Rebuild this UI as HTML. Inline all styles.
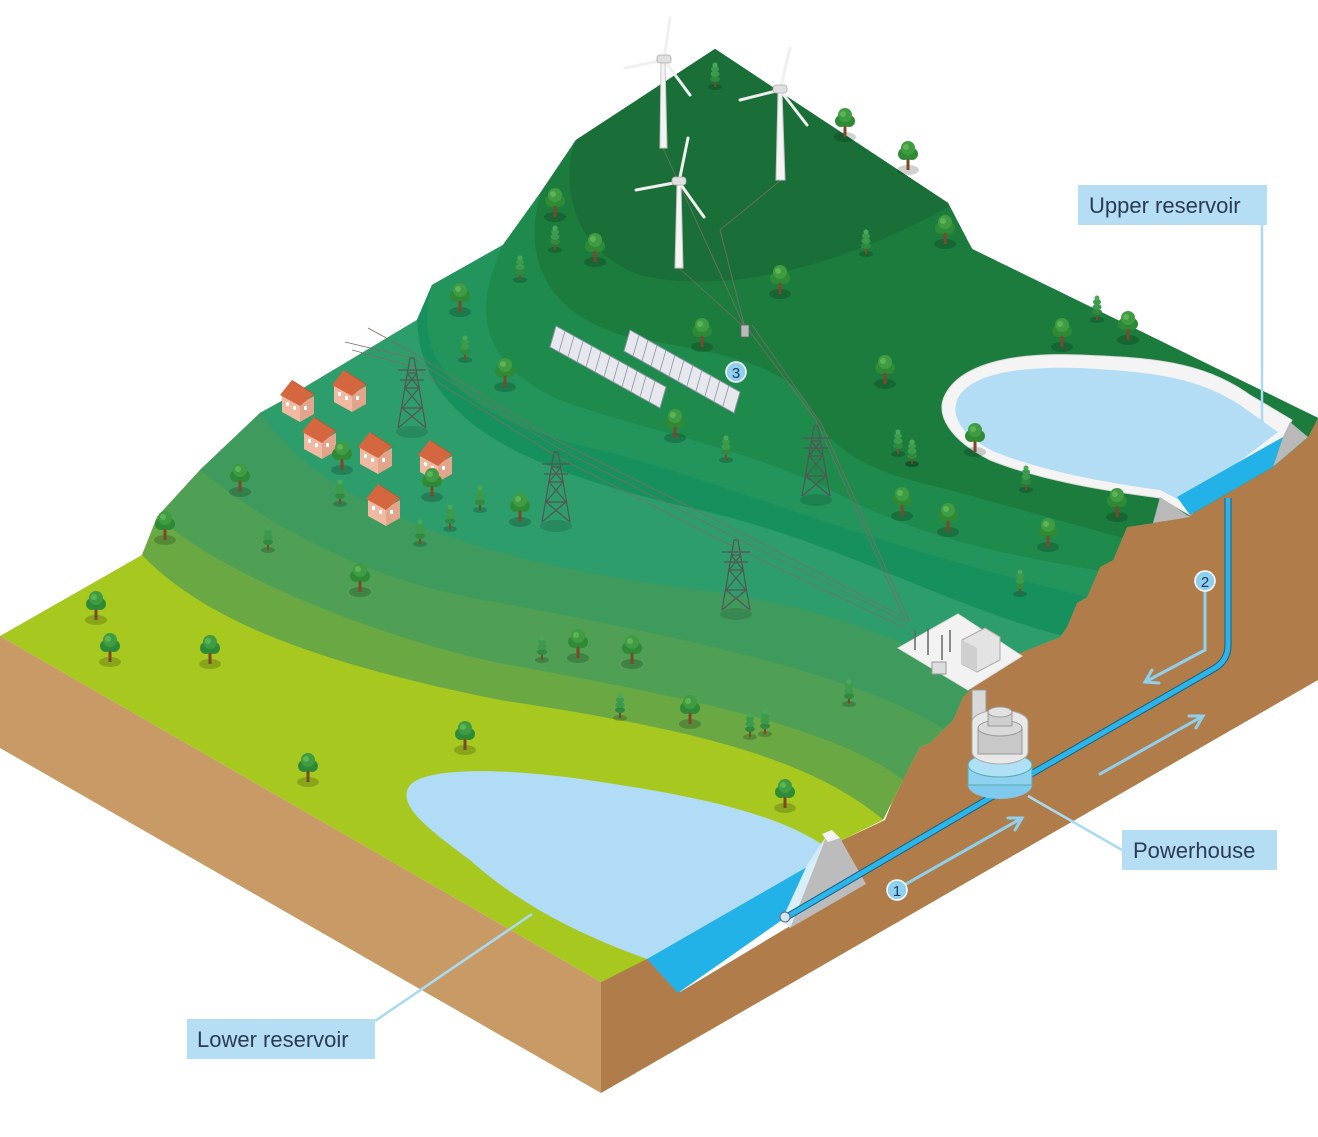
<!DOCTYPE html>
<html><head><meta charset="utf-8"><style>
html,body{margin:0;padding:0;background:#fff}
svg{display:block}
.lbl{font-family:"Liberation Sans",sans-serif;font-size:22px;fill:#2b3a55}
.num{font-family:"Liberation Sans",sans-serif;font-size:15px;fill:#1d3a66;text-anchor:middle}
</style></head><body>
<svg width="1318" height="1137" viewBox="0 0 1318 1137" xmlns="http://www.w3.org/2000/svg">
<defs>
<clipPath id="top"><path d="M0,636 L142,555 L157,517 L200,470 L260,413 L280,402 L417,320 L432,285 L503,245 L541,192 L576,140 L715,49 L948,203 L972,249 L1318,418 L1308,437 L1273,467 L1190,515 L1153,523 L1127,527 L1113,560 L1100,567 L1087,597 L1077,603 L1067,627 L1060,637 L1020,653 L980,680 L963,697 L953,720 L930,743 L920,747 L903,780 L893,800 L883,820 L838,842 L807,867 L647,959 L601,982 Z"/></clipPath>
<g id="tree"><ellipse cx="0" cy="2" rx="11" ry="5" fill="#000" opacity="0.18"/><rect x="-1.5" y="-10" width="3" height="12" fill="#7a4a2a"/><circle cx="-4" cy="-14" r="6" fill="#2f8a36"/><circle cx="4" cy="-14" r="6" fill="#2f8a36"/><circle cx="0" cy="-20" r="7" fill="#3f9c42"/><circle cx="-2" cy="-21" r="3" fill="#5cb455"/></g>
<g id="pine"><ellipse cx="0" cy="2" rx="7" ry="3" fill="#000" opacity="0.18"/><rect x="-1" y="-4" width="2" height="6" fill="#7a4a2a"/><ellipse cx="0" cy="-6" rx="5" ry="3" fill="#2f8a40"/><ellipse cx="0" cy="-11" rx="4.5" ry="3" fill="#3c9a4c"/><ellipse cx="0" cy="-16" rx="4" ry="3" fill="#3c9a4c"/><ellipse cx="0" cy="-20" rx="2.5" ry="2.5" fill="#4aa85a"/></g>
<g id="house"><polygon points="-18,-6 0,4 0,-14 -18,-24" fill="#f2b9a2"/><polygon points="0,4 14,-4 14,-22 0,-14" fill="#e3a48c"/><polygon points="-20,-23 -8,-38 14,-24 0,-12" fill="#d4673f"/><polygon points="-8,-38 14,-24 16,-22 -6,-36" fill="#b84f2e"/><rect x="-14" y="-16" width="3" height="4" fill="#fff"/><rect x="-7" y="-12" width="3" height="4" fill="#fff"/><rect x="4" y="-12" width="3" height="4" fill="#fff"/></g>
<g id="pylon" fill="none" stroke="#555" stroke-width="1.2"><path d="M-14,0 L-2,-70 L2,-70 L14,0 M-10,-20 L10,-20 M-7,-40 L7,-40 M-5,-55 L5,-55 M-14,0 L10,-20 L-7,-40 L5,-55 M14,0 L-10,-20 L7,-40 L-5,-55 M-14,-58 L14,-58 M-12,-48 L12,-48"/><ellipse cx="0" cy="4" rx="16" ry="6" fill="#000" opacity="0.12" stroke="none"/></g>
</defs>

<!-- side faces -->
<polygon points="0,636 601,982 601,1093 0,748" fill="#c89b66"/>
<polygon points="601,982 647,958 680,992 790,926 860,886 838,842 885,820 893,800 903,780 920,747 930,743 953,720 963,697 980,680 1020,653 1060,637 1067,627 1077,603 1087,597 1100,567 1113,560 1127,527 1153,523 1190,515 1273,467 1308,437 1318,418 1318,680 601,1093" fill="#b07d4a"/>

<!-- top surface bands -->
<g clip-path="url(#top)">
<rect x="0" y="0" width="1318" height="1137" fill="#a7c81f"/>
<path d="M120,530 L142,555 C200,615 300,660 500,700 C700,730 820,760 895,830 L1400,830 L1400,-10 L-10,-10 Z" fill="#6aa844"/>
<path d="M130,500 L157,517 C233,583 400,643 500,663 C700,700 850,730 915,790 L1400,790 L1400,-10 L-10,-10 Z" fill="#4f9f54"/>
<path d="M180,450 L200,470 C300,550 400,587 500,603 C700,640 880,680 960,740 L1400,740 L1400,-10 L-10,-10 Z" fill="#3f9b5d"/>
<path d="M240,395 L260,413 C330,515 500,565 700,590 C850,610 920,650 1000,690 L1400,690 L1400,-10 L-10,-10 Z" fill="#2d9d6b"/>
<path d="M400,300 L417,320 C420,420 520,470 700,510 C850,545 950,610 1080,640 L1400,640 L1400,-10 L-10,-10 Z" fill="#16915d"/>
<path d="M420,270 L432,285 C410,360 460,420 600,450 C720,480 850,540 1100,600 L1400,600 L1400,-10 L-10,-10 Z" fill="#22945c"/>
<path d="M490,230 L503,245 C478,300 470,360 560,400 C640,430 760,450 850,500 C950,550 1050,560 1120,575 L1400,575 L1400,-10 L-10,-10 Z" fill="#1e8a4c"/>
<path d="M530,180 L541,192 C526,240 530,310 629,337 C700,350 780,360 805,400 C830,450 860,470 950,490 L1130,540 L1400,540 L1400,-10 L-10,-10 Z" fill="#1b7c3e"/>
<path d="M560,120 L576,140 C560,180 570,250 640,275 C720,295 840,270 960,200 L960,-10 L-10,-10 Z" fill="#196f37"/>
</g>

<!-- upper reservoir -->
<path d="M945,395 C960,365 1010,352 1080,355 C1150,358 1200,360 1250,395 L1292,420 L1283,437 L1190,515 L1160,498 C1100,490 1040,480 990,460 C950,440 935,415 945,395 Z" fill="#f4f4f4" stroke="#dcdcdc"/>
<path d="M958,398 C970,375 1015,366 1080,368 C1150,372 1195,376 1240,405 L1278,432 L1185,503 L1160,490 C1100,482 1040,470 995,452 C960,435 950,415 958,398 Z" fill="#b3dcf5"/>
<polygon points="1177,497 1283,437 1273,467 1190,515" fill="#22b2e8"/>
<polygon points="1160,497 1190,517 1153,523" fill="#b9b9b9"/>
<polygon points="1290,422 1308,437 1273,467 1283,437" fill="#b9b9b9"/>

<!-- lower reservoir -->
<path d="M410,785 C430,765 520,768 620,785 C720,800 790,820 830,850 L807,867 L647,959 C580,935 520,905 470,860 C430,830 395,805 410,785 Z" fill="#b0dcf5"/>
<polygon points="647,959 807,867 782,920 678,993" fill="#22b2e8"/>
<polygon points="827,835 840,838 866,884 790,928" fill="#bcbcbc"/>
<polygon points="827,835 807,865 782,920 790,928" fill="#d6ecf7" opacity="0.9"/>
<polygon points="822,834 832,830 840,838 828,842" fill="#f3f3f3"/>

<!-- tunnels -->
<path d="M785,918 L1000,792 L1215,668 Q1228,660 1228,645 L1228,498" fill="none" stroke="#1d5f80" stroke-width="7"/>
<path d="M785,918 L1000,792 L1215,668 Q1228,660 1228,645 L1228,498" fill="none" stroke="#2ab6ea" stroke-width="5"/>
<circle cx="785" cy="917" r="5" fill="#cfe6f2" stroke="#667" stroke-width="1"/>

<!-- arrows -->
<g stroke="#8fd0ef" stroke-width="3" fill="none" stroke-linecap="round">
<path d="M906,884 L1022,818 M1008,818 L1022,818 L1015,830"/>
<path d="M1100,774 L1203,716 M1189,716 L1203,716 L1196,728"/>
<path d="M1205,590 L1205,650 L1145,682 M1159,683 L1145,682 L1152,670"/>
</g>
<circle cx="897" cy="890" r="10" fill="#8fd0ef" stroke="#fff" stroke-width="1.5"/><text class="num" x="897" y="896">1</text>
<circle cx="1205" cy="581" r="10" fill="#8fd0ef" stroke="#fff" stroke-width="1.5"/><text class="num" x="1205" y="587">2</text>

<!-- substation & powerhouse -->
<polygon points="898,648 958,614 1022,656 968,690" fill="#f2f2f2" stroke="#ddd"/>
<polygon points="962,640 985,628 1000,637 1000,660 977,672 962,664" fill="#e3e3e3" stroke="#aaa"/>
<polygon points="962,640 977,648 977,672 962,664" fill="#cfcfcf"/>
<g stroke="#666" stroke-width="1.5"><line x1="915" y1="650" x2="915" y2="630"/><line x1="928" y1="655" x2="928" y2="628"/><line x1="942" y1="660" x2="942" y2="635"/><line x1="950" y1="652" x2="950" y2="630"/></g>
<rect x="932" y="662" width="14" height="12" fill="#ddd" stroke="#999"/>
<rect x="972" y="690" width="14" height="30" fill="#d8d8d8" stroke="#999"/>
<ellipse cx="1000" cy="785" rx="32" ry="14" fill="#7fc9ee"/>
<rect x="968" y="765" width="64" height="20" fill="#8fd2f0" stroke="#5aa"/>
<ellipse cx="1000" cy="765" rx="32" ry="12" fill="#b0e0f6" stroke="#5aa"/>
<path d="M972,752 L972,722 A28,12 0 0 1 1028,722 L1028,752 A28,12 0 0 1 972,752 Z" fill="#e8e8e8" stroke="#aaa"/>
<rect x="978" y="728" width="44" height="26" fill="#c8c8c8" stroke="#999"/>
<ellipse cx="1000" cy="728" rx="22" ry="8" fill="#d9d9d9" stroke="#999"/>
<rect x="988" y="712" width="24" height="14" fill="#cfcfcf" stroke="#999"/>
<ellipse cx="1000" cy="712" rx="12" ry="5" fill="#e2e2e2" stroke="#999"/>

<!-- power lines -->
<g stroke="#7a6e66" stroke-width="0.8" fill="none">
<path d="M345,342 L412,358 L556,447 L736,538 L905,622"/>
<path d="M352,350 L412,366 L556,456 L736,548 L905,628"/>
<path d="M368,328 L412,352 L556,440 L736,530 L900,615"/>
<path d="M745,325 L816,420 L905,620"/>
<path d="M752,325 L822,425 L910,622"/>
<path d="M663,148 L745,328 M781,180 L720,230 L745,328 M679,268 L745,328"/>
</g>
<use href="#pylon" x="412" y="428"/>
<use href="#pylon" x="556" y="522"/>
<use href="#pylon" x="736" y="610"/>
<use href="#pylon" x="816" y="496"/>
<rect x="741" y="325" width="8" height="12" fill="#bbb" stroke="#666" stroke-width="0.8"/>
<circle cx="736" cy="372" r="10" fill="#8fd0ef" stroke="#fff" stroke-width="1.5"/><text class="num" x="736" y="378">3</text>

<!-- solar panels -->
<g fill="#e6e8ee" stroke="#8a94a4" stroke-width="1">
<polygon points="556,326 666,387 660,408 550,347"/>
<polygon points="630,330 740,392 734,413 624,351"/>
</g>
<g stroke="#8a94a4" stroke-width="0.8">
<path d="M565,331 L559,352 M574,336 L568,357 M583,341 L577,362 M592,346 L586,367 M601,351 L595,372 M610,356 L604,377 M619,361 L613,382 M628,366 L622,387 M637,371 L631,392 M646,376 L640,397 M655,381 L649,402"/>
<path d="M639,335 L633,356 M648,340 L642,361 M657,345 L651,366 M666,350 L660,371 M675,355 L669,376 M684,360 L678,381 M693,365 L687,386 M702,370 L696,391 M711,375 L705,396 M720,380 L714,401 M729,385 L723,406"/>
</g>

<!-- wind turbines -->
<g fill="#f4f4f4" stroke="#c8c8c8" stroke-width="1">
<polygon points="660,148 661,62 665,62 667,148"/><polygon points="776,180 778,92 782,92 785,180"/><polygon points="675,268 677,185 681,185 683,268"/>
</g>
<g stroke="#f0f0f0" stroke-width="3" stroke-linecap="round">
<path d="M664,60 L670,18 M664,60 L690,95 M664,60 L625,68"/>
<path d="M780,90 L790,48 M780,90 L807,125 M780,90 L740,100"/>
<path d="M679,182 L688,138 M679,182 L704,217 M679,182 L636,190"/>
</g>
<g fill="#e0e0e0" stroke="#aaa" stroke-width="0.8"><rect x="657" y="55" width="14" height="8" rx="3"/><rect x="773" y="85" width="14" height="8" rx="3"/><rect x="672" y="177" width="14" height="8" rx="3"/></g>

<!-- houses -->
<use href="#house" x="300" y="418"/><use href="#house" x="352" y="408"/><use href="#house" x="322" y="455"/><use href="#house" x="378" y="470"/><use href="#house" x="438" y="478"/><use href="#house" x="386" y="522"/>

<!-- trees -->
<use href="#tree" x="96" y="618"/><use href="#tree" x="110" y="660"/><use href="#tree" x="210" y="662"/><use href="#tree" x="308" y="780"/><use href="#tree" x="360" y="590"/><use href="#tree" x="465" y="748"/><use href="#tree" x="578" y="656"/><use href="#tree" x="632" y="662"/><use href="#tree" x="690" y="722"/><use href="#tree" x="785" y="806"/><use href="#tree" x="240" y="490"/><use href="#tree" x="165" y="538"/><use href="#tree" x="460" y="310"/><use href="#tree" x="505" y="385"/><use href="#tree" x="555" y="215"/><use href="#tree" x="595" y="260"/><use href="#tree" x="675" y="436"/><use href="#tree" x="780" y="292"/><use href="#tree" x="845" y="135"/><use href="#tree" x="908" y="168"/><use href="#tree" x="945" y="242"/><use href="#tree" x="885" y="382"/><use href="#tree" x="975" y="450"/><use href="#tree" x="1062" y="345"/><use href="#tree" x="1128" y="338"/><use href="#tree" x="1117" y="515"/><use href="#tree" x="1048" y="545"/><use href="#tree" x="948" y="530"/><use href="#tree" x="902" y="514"/><use href="#tree" x="702" y="345"/><use href="#tree" x="342" y="468"/><use href="#tree" x="432" y="495"/><use href="#tree" x="520" y="520"/>
<use href="#pine" x="715" y="85"/><use href="#pine" x="555" y="248"/><use href="#pine" x="866" y="252"/><use href="#pine" x="1097" y="318"/><use href="#pine" x="898" y="452"/><use href="#pine" x="1026" y="488"/><use href="#pine" x="849" y="702"/><use href="#pine" x="750" y="735"/><use href="#pine" x="765" y="732"/><use href="#pine" x="620" y="716"/><use href="#pine" x="542" y="658"/><use href="#pine" x="480" y="508"/><use href="#pine" x="450" y="527"/><use href="#pine" x="420" y="542"/><use href="#pine" x="268" y="548"/><use href="#pine" x="340" y="502"/><use href="#pine" x="465" y="358"/><use href="#pine" x="520" y="278"/><use href="#pine" x="726" y="458"/><use href="#pine" x="912" y="462"/><use href="#pine" x="1020" y="592"/><use href="#pine" x="912" y="462"/>

<!-- labels -->
<g stroke="#a9daf3" stroke-width="2.5" fill="none">
<line x1="1262" y1="225" x2="1262" y2="422"/>
<line x1="1122" y1="850" x2="1028" y2="796"/>
<line x1="375" y1="1021" x2="532" y2="914"/>
</g>
<rect x="1078" y="185" width="189" height="40" fill="#b5def5"/><text class="lbl" x="1089" y="213">Upper reservoir</text>
<rect x="1122" y="830" width="155" height="40" fill="#b5def5"/><text class="lbl" x="1133" y="858">Powerhouse</text>
<rect x="187" y="1019" width="188" height="40" fill="#b5def5"/><text class="lbl" x="197" y="1047">Lower reservoir</text>
</svg>
</body></html>
